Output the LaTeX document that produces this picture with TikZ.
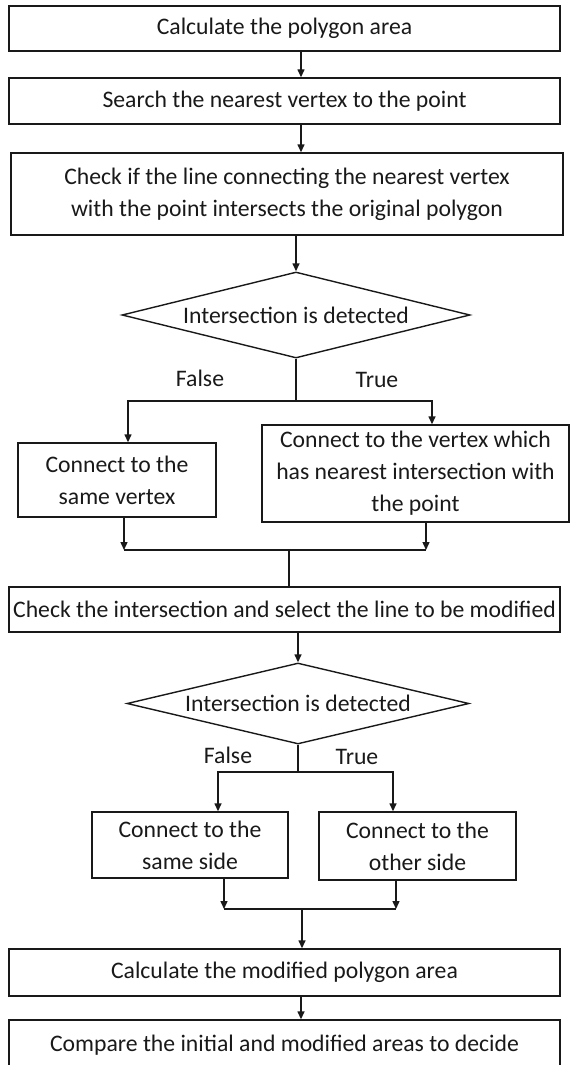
\documentclass[tikz,border=0pt]{standalone}
\usepackage{fontspec}
\setmainfont{Carlito}
\usetikzlibrary{shapes.geometric,arrows.meta}
\tikzset{
  box/.style={draw, rectangle, align=center, inner sep=0pt},
  decision/.style={draw, diamond, aspect=4, inner sep=0pt},
  arr/.style={-{Triangle[length=8pt,width=7pt]}},
}
\begin{document}
\begin{tikzpicture}[x=1pt,y=-1pt,line width=1.4pt,color=black!90,
    font=\fontsize{23.7}{32}\selectfont]
  \useasboundingbox (0,0) rectangle (570,1065);
  \coordinate (spine) at (301,0);
  % Blocchi
  \node[box, minimum width=551pt, minimum height=45pt] (calc) at (284.5,28.5) {Calculate the polygon area};
  \node[box, minimum width=551pt, minimum height=46pt] (search) at (284.5,101) {Search the nearest vertex to the point};
  \node[box, minimum width=552pt, minimum height=82pt] (check) at (287,194) {Check if the line connecting the nearest vertex\\with the point intersects the original polygon};
  \node[decision, minimum width=348pt, minimum height=86pt] (dec1) at (296,315) {Intersection is detected};
  \node (f1) at (200,378) {False};
  \node (t1) at (377,380) {True};
  \node[box, minimum width=198pt, minimum height=74pt] (vsame) at (117,480) {Connect to the\\same vertex};
  \node[box, minimum width=307pt, minimum height=97pt] (vnear) at (415.5,473.5) {Connect to the vertex which\\has nearest intersection with\\the point};
  \node[box, minimum width=551pt, minimum height=45pt] (sel) at (284.5,609.5) {Check the intersection and select the line to be modified};
  \node[decision, minimum width=342pt, minimum height=81pt] (dec2) at (298,703.5) {Intersection is detected};
  \node (f2) at (228,755) {False};
  \node (t2) at (357,757) {True};
  \node[box, minimum width=196pt, minimum height=66pt] (ssame) at (190,845) {Connect to the\\same side};
  \node[box, minimum width=197pt, minimum height=68pt] (sother) at (417.5,846) {Connect to the\\other side};
  \node[box, minimum width=551pt, minimum height=47pt] (modarea) at (284.5,972.5) {Calculate the modified polygon area};
  \node[box, minimum width=551pt, minimum height=50pt] (compare) at (284.5,1045) {Compare the initial and modified areas to decide};
  % Frecce principali
  \draw[arr] (calc.south -| spine) -- (search.north -| spine);
  \draw[arr] (search.south -| spine) -- (check.north -| spine);
  \draw[arr] (check.south -| dec1) -- (dec1.north);
  % Primo bivio
  \coordinate (fork1) at (296,401);
  \draw (dec1.south) -- (fork1);
  \draw[arr] (fork1) -| ([xshift=11pt]vsame.north);
  \draw[arr] (fork1) -| ([xshift=16.5pt]vnear.north);
  \coordinate (join1) at (289,550);
  \draw[arr] ([xshift=7pt]vsame.south) -- ([xshift=7pt]vsame.south |- join1);
  \draw[arr] ([xshift=10.5pt]vnear.south) -- ([xshift=10.5pt]vnear.south |- join1);
  \draw ([xshift=7pt]vsame.south |- join1) -- ([xshift=10.5pt]vnear.south |- join1);
  \draw (join1) -- (sel.north -| join1);
  % Secondo bivio
  \draw[arr] (sel.south -| dec2) -- (dec2.north);
  \coordinate (fork2) at (298,772);
  \draw (dec2.south) -- (fork2);
  \draw[arr] (fork2) -| ([xshift=28pt]ssame.north);
  \draw[arr] (fork2) -| ([xshift=-24.5pt]sother.north);
  \coordinate (join2) at (302,909);
  \draw[arr] ([xshift=34pt]ssame.south) -- ([xshift=34pt]ssame.south |- join2);
  \draw[arr] ([xshift=-21.5pt]sother.south) -- ([xshift=-21.5pt]sother.south |- join2);
  \draw ([xshift=34pt]ssame.south |- join2) -- ([xshift=-21.5pt]sother.south |- join2);
  \draw[arr] (join2) -- (modarea.north -| join2);
  \draw[arr] (modarea.south -| spine) -- (compare.north -| spine);
\end{tikzpicture}
\end{document}
